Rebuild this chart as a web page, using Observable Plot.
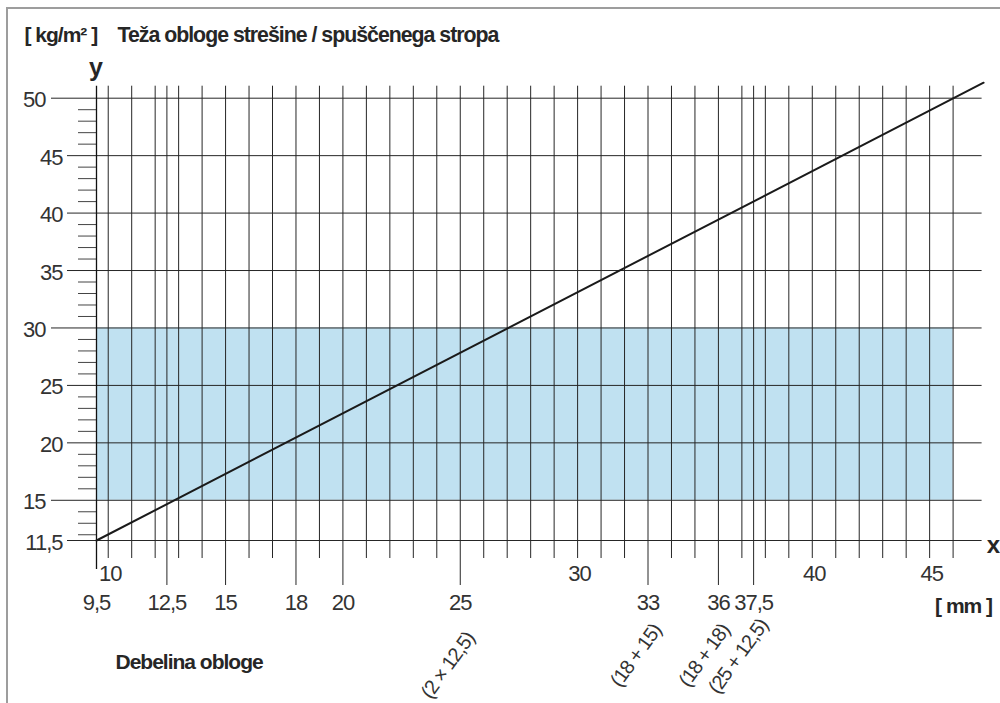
<!DOCTYPE html>
<html><head><meta charset="utf-8">
<script src="https://cdn.jsdelivr.net/npm/d3@7"></script>
<script src="https://cdn.jsdelivr.net/npm/@observablehq/plot@0.6"></script>
<style>
body{margin:0;background:#fff;}
#wrap{position:relative;width:1000px;height:703px;overflow:hidden;}
#wrap svg{position:absolute;left:0;top:0;}
#border{position:absolute;left:6px;top:7px;right:-10px;bottom:-10px;border-top:2px solid #9d9d9d;border-left:2px solid #9d9d9d;z-index:2;}
</style></head><body>
<div id="wrap"><div id="border"></div></div>
<script>
// ---- data ----
const xDomain = [9.5, 46];
const yDomain = [11.5, 50];
const xOrigin = [9.5];
const xGrid = [10,11,12,13,14,16,17,19,21,22,23,24,26,27,28,29,30,31,32,34,35,37,38,39,40,41,42,43,44,45,46];
const xLong = [12.5, 15, 18, 20, 25, 33, 36, 37.5];
const xLabelsTop = [10, 30, 40, 45];
const xLabelsBottom = [9.5, 12.5, 15, 18, 20, 25, 33, 36, 37.5];
const xCombos = [25, 33, 36, 37.5];
const comboLabels = ["(2 × 12,5)", "(18 + 15)", "(18 + 18)", "(25 + 12,5)"];
const yOuter = [50, 30, 15];
const yInner = [45, 40, 35, 25, 20, 11.5];
const yMinor = [12,13,14,16,17,18,19,21,22,23,24,26,27,28,29,31,32,33,34,36,37,38,39,41,42,43,44,46,47,48,49];
const bandX = [9.5, 46];
const bandY = [15, 30];
const lineX = [9.5, 47.3];
const lineY = [11.5, 51.35];

const fmt = d => String(d).replace(".", ",");
const band = [{x1: bandX[0], x2: bandX[1], y1: bandY[0], y2: bandY[1]}];
const curve = lineX.map((x, i) => ({x, y: lineY[i]}));
const combos = xCombos.map((x, i) => ({x, label: comboLabels[i]}));

const W = 1000, H = 703;
const mL = 96, mR = 47.4, mT = 97.7, mB = 163;
const lineC = "#262626", textC = "#333", boldC = "#262626";

// small per-label placement nudges (styling only)
const comboOffsets = [{dx: 10, dy: 94}, {dx: 9, dy: 86}, {dx: 7, dy: 86}, {dx: 10, dy: 81}];
const comboMarks = combos.map((c, i) => Plot.text([c], {x: "x", text: "label", frameAnchor: "bottom", lineAnchor: "middle", textAnchor: "end", rotate: -54, dx: comboOffsets[i].dx, dy: comboOffsets[i].dy, fontSize: 20, fill: textC}));

const chart = Plot.plot({
  width: W, height: H,
  marginLeft: mL, marginRight: mR, marginTop: mT, marginBottom: mB,
  x: {domain: xDomain, range: [mL, W - mR], axis: null},
  y: {domain: yDomain, range: [H - mB, mT], axis: null},
  style: {fontFamily: "'Liberation Sans', Arial, sans-serif", letterSpacing: "-1px", background: "#fff", overflow: "visible"},
  marks: [
    Plot.rect(band, {x1: "x1", x2: "x2", y1: "y1", y2: "y2", fill: "#c0e1f1"}),
    // horizontal grid
    Plot.ruleY(yOuter, {y: d => d, stroke: lineC, strokeWidth: 1, insetLeft: -45, insetRight: -29}),
    Plot.ruleY(yInner, {y: d => d, stroke: lineC, strokeWidth: 1, insetLeft: -29, insetRight: -29}),
    Plot.ruleY(yMinor, {y: d => d, x1: xDomain[0], x2: xDomain[0], insetLeft: -18, stroke: "#444", strokeWidth: 1}),
    // vertical grid
    Plot.ruleX(xGrid, {x: d => d, stroke: lineC, strokeWidth: 1, insetTop: -12, insetBottom: -18}),
    Plot.ruleX(xLong, {x: d => d, stroke: lineC, strokeWidth: 1, insetTop: -12, insetBottom: -45}),
    Plot.ruleX(xOrigin, {x: d => d, stroke: "#111", strokeWidth: 1.3, insetTop: -12, insetBottom: -29}),
    // the relation line
    Plot.line(curve, {x: "x", y: "y", stroke: "#1a1a1a", strokeWidth: 2}),
    // y tick labels
    Plot.text(yOuter, {y: d => d, text: fmt, frameAnchor: "left", dx: -51, dy: 2, textAnchor: "end", fontSize: 22, fill: textC}),
    Plot.text(yInner, {y: d => d, text: fmt, frameAnchor: "left", dx: -34, dy: 2, textAnchor: "end", fontSize: 22, fill: textC}),
    // x tick labels
    Plot.text(xLabelsTop, {x: d => d, text: fmt, frameAnchor: "bottom", lineAnchor: "bottom", dx: 2, dy: 40, fontSize: 22, fill: textC}),
    Plot.text(xLabelsBottom, {x: d => d, text: fmt, frameAnchor: "bottom", lineAnchor: "bottom", dy: 69, fontSize: 22, fill: textC}),
    ...comboMarks,
    // titles
    Plot.text(["[ kg/m² ]"], {frameAnchor: "top-left", textAnchor: "start", lineAnchor: "bottom", dx: 24 - mL, dy: 42 - mT, fontSize: 21, fontWeight: "bold", fill: boldC}),
    Plot.text(["Teža obloge strešine / spuščenega stropa"], {frameAnchor: "top-left", textAnchor: "start", lineAnchor: "bottom", dx: 117 - mL, dy: 42 - mT, fontSize: 21.3, fontWeight: "bold", fill: boldC}),
    Plot.text(["y"], {frameAnchor: "top-left", textAnchor: "middle", lineAnchor: "bottom", dx: -1, dy: -22, fontSize: 25, fontWeight: "bold", fill: boldC}),
    Plot.text(["x"], {frameAnchor: "bottom-right", textAnchor: "end", lineAnchor: "bottom", dx: 46, dy: 12, fontSize: 24, fontWeight: "bold", fill: boldC}),
    Plot.text(["[ mm ]"], {frameAnchor: "bottom-right", textAnchor: "end", lineAnchor: "bottom", dx: 39, dy: 72, fontSize: 21, fontWeight: "bold", fill: boldC}),
    Plot.text(["Debelina obloge"], {frameAnchor: "bottom-left", textAnchor: "start", lineAnchor: "bottom", dx: 19, dy: 128, fontSize: 21, fontWeight: "bold", fill: boldC})
  ]
});
document.getElementById("wrap").prepend(chart);
</script>
</body></html>
